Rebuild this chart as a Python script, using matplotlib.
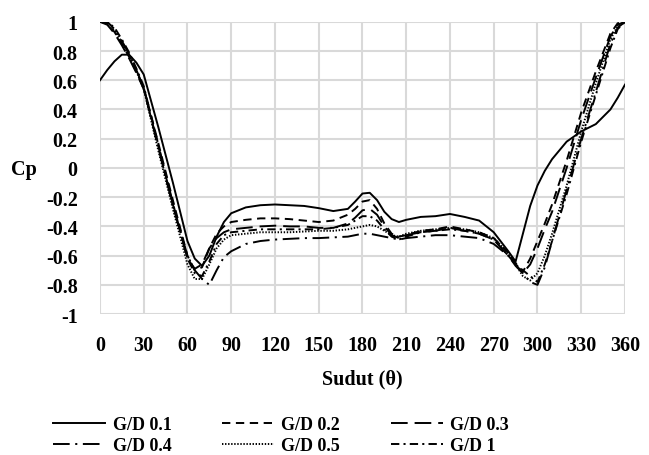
import numpy as np
import matplotlib
matplotlib.use('Agg')
import matplotlib.pyplot as plt

plt.rcParams['font.family'] = ['Liberation Serif', 'DejaVu Serif']
plt.rcParams['font.weight'] = 'bold'
plt.rcParams['lines.scale_dashes'] = False

# sudut (derajat)
theta = [0, 5, 10, 15, 20, 25, 30, 40, 50, 60, 65, 70, 75, 80, 85, 90, 100, 110, 120, 130,
         140, 150, 160, 170, 175, 180, 185, 190, 195, 200, 205, 210, 220, 230, 240, 250,
         260, 270, 280, 285, 290, 295, 300, 305, 310, 320, 330, 340, 350, 355, 360]

# Cp untuk tiap G/D
cp_01 = [0.60, 0.67, 0.73, 0.775, 0.775, 0.72, 0.64, 0.28, -0.10, -0.50, -0.62, -0.67, -0.60, -0.47, -0.37, -0.31,
         -0.27, -0.255, -0.25, -0.255, -0.26, -0.275, -0.295, -0.28, -0.23, -0.175, -0.17, -0.22, -0.30, -0.35,
         -0.37, -0.355, -0.335, -0.33, -0.315, -0.335, -0.36, -0.44, -0.57, -0.64, -0.45, -0.26, -0.12, -0.02,
         0.06, 0.18, 0.25, 0.30, 0.40, 0.48, 0.57]
cp_02 = [1.0, 0.99, 0.93, 0.85, 0.76, 0.66, 0.55, 0.17, -0.22, -0.60, -0.70, -0.68, -0.55, -0.45, -0.40, -0.37,
         -0.355, -0.345, -0.345, -0.35, -0.36, -0.37, -0.36, -0.32, -0.28, -0.23, -0.22, -0.28, -0.38, -0.45,
         -0.47, -0.46, -0.43, -0.42, -0.40, -0.42, -0.44, -0.48, -0.58, -0.65, -0.71, -0.62, -0.50, -0.38,
         -0.25, 0.05, 0.38, 0.66, 0.92, 0.99, 1.0]
cp_03 = [1.0, 0.98, 0.92, 0.84, 0.75, 0.65, 0.54, 0.15, -0.25, -0.62, -0.69, -0.66, -0.55, -0.48, -0.44, -0.42,
         -0.41, -0.40, -0.395, -0.40, -0.40, -0.41, -0.41, -0.38, -0.34, -0.29, -0.28, -0.32, -0.40, -0.46,
         -0.48, -0.46, -0.44, -0.43, -0.41, -0.43, -0.45, -0.49, -0.60, -0.67, -0.72, -0.66, -0.55, -0.42,
         -0.30, 0.0, 0.33, 0.62, 0.90, 0.98, 1.0]
cp_04 = [1.0, 1.0, 0.95, 0.87, 0.78, 0.67, 0.55, 0.14, -0.26, -0.60, -0.70, -0.76, -0.80, -0.70, -0.61, -0.57,
         -0.52, -0.50, -0.49, -0.485, -0.48, -0.48, -0.475, -0.47, -0.46, -0.45, -0.45, -0.46, -0.47, -0.48,
         -0.49, -0.48, -0.47, -0.46, -0.46, -0.47, -0.48, -0.52, -0.60, -0.66, -0.72, -0.78, -0.80, -0.68,
         -0.50, -0.15, 0.20, 0.52, 0.85, 0.96, 1.0]
cp_05 = [1.0, 0.99, 0.94, 0.86, 0.77, 0.66, 0.54, 0.12, -0.28, -0.66, -0.76, -0.76, -0.66, -0.55, -0.49, -0.46,
         -0.45, -0.44, -0.44, -0.44, -0.435, -0.43, -0.43, -0.42, -0.41, -0.40, -0.39, -0.40, -0.43, -0.46,
         -0.47, -0.45, -0.43, -0.42, -0.41, -0.42, -0.44, -0.48, -0.58, -0.66, -0.74, -0.77, -0.72, -0.60,
         -0.45, -0.12, 0.25, 0.58, 0.88, 0.97, 1.0]
cp_1 = [1.0, 1.0, 0.96, 0.88, 0.79, 0.68, 0.56, 0.16, -0.24, -0.62, -0.72, -0.74, -0.64, -0.52, -0.46, -0.44,
        -0.43, -0.42, -0.42, -0.42, -0.42, -0.42, -0.41, -0.39, -0.36, -0.33, -0.33, -0.36, -0.42, -0.47,
        -0.49, -0.47, -0.44, -0.43, -0.42, -0.43, -0.45, -0.49, -0.60, -0.66, -0.70, -0.74, -0.78, -0.66,
        -0.50, -0.18, 0.18, 0.50, 0.82, 0.95, 1.0]

labels = ['G/D 0.1', 'G/D 0.2', 'G/D 0.3', 'G/D 0.4', 'G/D 0.5', 'G/D 1']
x_ticks = list(range(0, 361, 30))
y_ticks = [1, 0.8, 0.6, 0.4, 0.2, 0, -0.2, -0.4, -0.6, -0.8, -1]
y_tick_labels = ['1', '0.8', '0.6', '0.4', '0.2', '0', '-0.2', '-0.4', '-0.6', '-0.8', '-1']

fig = plt.figure(figsize=(6.49, 4.56), dpi=100)
ax = fig.add_axes([0.154, 0.309, 0.809, 0.641])

series = [cp_01, cp_02, cp_03, cp_04, cp_05, cp_1]
dash_list = [None, (6, 4), (12, 5), (12, 4, 1.5, 4), (1, 1.2), (6, 3, 1.5, 3)]
handles = []
for cp, lab, ds in zip(series, labels, dash_list):
    line, = ax.plot(theta, cp, color='black', lw=1.4, label=lab)
    if ds is not None:
        line.set_dashes(ds)
    handles.append(line)

ax.set_xlim(0, 360)
ax.set_ylim(-1, 1)
ax.set_xticks(x_ticks)
ax.set_xticklabels([str(t) for t in x_ticks])
ax.set_yticks(y_ticks)
ax.set_yticklabels(y_tick_labels)
ax.tick_params(axis='x', length=0, labelsize=14.5, pad=15)
ax.tick_params(axis='y', length=0, labelsize=14.5, pad=16)
ax.grid(True, color='#d9d9d9', lw=1.5)
ax.set_axisbelow(True)
for s in ax.spines.values():
    s.set_visible(False)

ax.set_xlabel('Sudut (θ)', fontsize=14.5, fontweight='bold', labelpad=10)
fig.text(24 / 649, 1 - 170 / 456, 'Cp', fontsize=14.5, fontweight='bold', ha='center', va='center')

# urutan legenda per baris (matplotlib mengisi per kolom)
order = [0, 3, 1, 4, 2, 5]
fig.legend([handles[i] for i in order], [labels[i] for i in order],
           loc='upper left', bbox_to_anchor=(53 / 649, 1 - 417 / 456), ncol=3, frameon=False,
           fontsize=13, handlelength=2.9, handletextpad=0.4, columnspacing=2.8,
           labelspacing=0.23, borderpad=0, borderaxespad=0)

plt.savefig('out.png', dpi=100)
